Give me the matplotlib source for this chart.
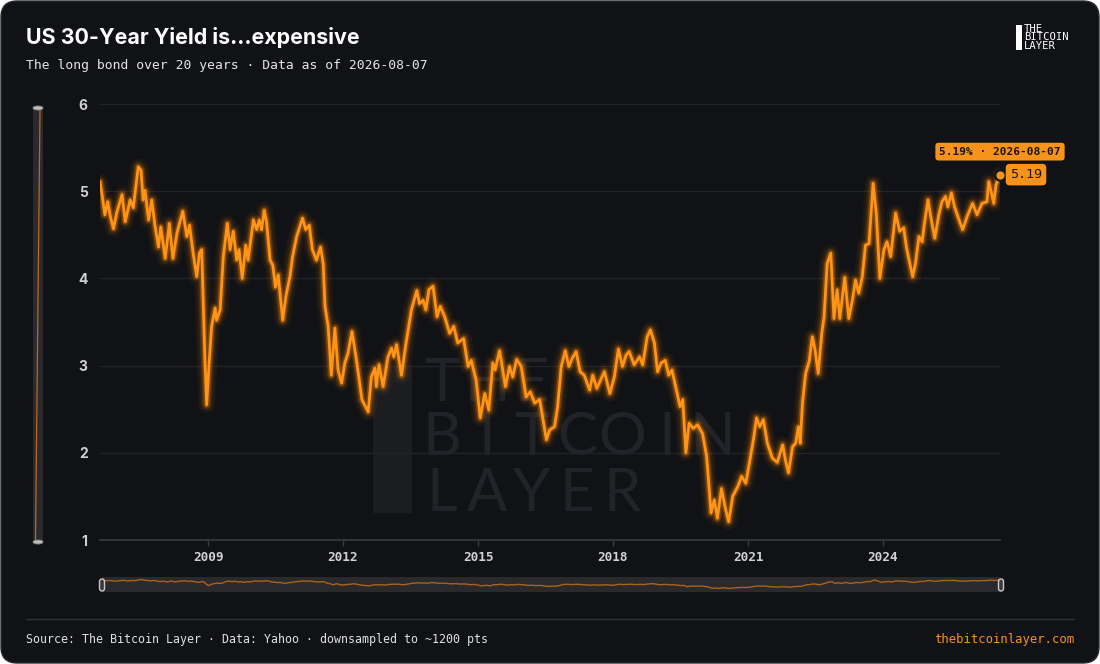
import matplotlib
matplotlib.use('Agg')
import matplotlib.pyplot as plt
from matplotlib.patches import FancyBboxPatch, Rectangle, Ellipse
from matplotlib.lines import Line2D

# ---------------- data ----------------
years = [2006.60, 2006.64, 2006.71, 2006.77, 2006.83, 2006.90, 2006.97, 2007.09, 2007.16, 2007.27,
         2007.34, 2007.45, 2007.51, 2007.56, 2007.60, 2007.68, 2007.75, 2007.82, 2007.90, 2007.95,
         2008.05, 2008.14, 2008.22, 2008.31, 2008.44, 2008.53, 2008.59, 2008.67, 2008.75, 2008.81,
         2008.86, 2008.90, 2008.93, 2008.97, 2009.02, 2009.08, 2009.16, 2009.19, 2009.27, 2009.34,
         2009.43, 2009.49, 2009.56, 2009.64, 2009.69, 2009.76, 2009.84, 2009.89, 2010.01, 2010.08,
         2010.14, 2010.19, 2010.25, 2010.30, 2010.38, 2010.44, 2010.50, 2010.56, 2010.66, 2010.73,
         2010.82, 2010.88, 2010.97, 2011.10, 2011.17, 2011.25, 2011.32, 2011.41, 2011.50, 2011.56,
         2011.60, 2011.67, 2011.74, 2011.82, 2011.89, 2011.97, 2012.04, 2012.11, 2012.20, 2012.30,
         2012.42, 2012.56, 2012.63, 2012.71, 2012.74, 2012.80, 2012.89, 2013.00, 2013.08, 2013.13,
         2013.19, 2013.30, 2013.39, 2013.52, 2013.64, 2013.70, 2013.78, 2013.84, 2013.91, 2014.00,
         2014.09, 2014.16, 2014.26, 2014.37, 2014.46, 2014.55, 2014.68, 2014.78, 2014.85, 2014.96,
         2015.05, 2015.15, 2015.24, 2015.33, 2015.38, 2015.48, 2015.61, 2015.70, 2015.77, 2015.86,
         2015.96, 2016.07, 2016.16, 2016.26, 2016.37, 2016.52, 2016.59, 2016.70, 2016.77, 2016.85,
         2016.94, 2017.02, 2017.09, 2017.18, 2017.27, 2017.36, 2017.48, 2017.55, 2017.64, 2017.81,
         2017.93, 2018.03, 2018.12, 2018.21, 2018.29, 2018.36, 2018.47, 2018.59, 2018.66, 2018.76,
         2018.83, 2018.92, 2018.99, 2019.07, 2019.16, 2019.24, 2019.31, 2019.40, 2019.49, 2019.55,
         2019.62, 2019.69, 2019.78, 2019.88, 2019.99, 2020.08, 2020.18, 2020.25, 2020.32, 2020.41,
         2020.49, 2020.57, 2020.66, 2020.77, 2020.86, 2020.95, 2021.03, 2021.12, 2021.19, 2021.26,
         2021.34, 2021.43, 2021.54, 2021.65, 2021.77, 2021.83, 2021.90, 2021.99, 2022.06, 2022.12,
         2022.16, 2022.21, 2022.28, 2022.36, 2022.43, 2022.49, 2022.56, 2022.64, 2022.69, 2022.76,
         2022.84, 2022.91, 2022.98, 2023.04, 2023.15, 2023.24, 2023.32, 2023.39, 2023.46, 2023.54,
         2023.61, 2023.69, 2023.78, 2023.85, 2023.93, 2024.02, 2024.09, 2024.17, 2024.28, 2024.37,
         2024.46, 2024.52, 2024.58, 2024.66, 2024.72, 2024.80, 2024.87, 2024.91, 2025.00, 2025.06,
         2025.15, 2025.24, 2025.31, 2025.39, 2025.44, 2025.52, 2025.59, 2025.69, 2025.77, 2025.87,
         2025.99, 2026.09, 2026.20, 2026.31, 2026.35, 2026.41, 2026.46, 2026.51, 2026.60]

yields = [5.11, 4.98, 4.73, 4.88, 4.71, 4.57, 4.75, 4.96, 4.65, 4.90,
          4.81, 5.28, 5.24, 4.90, 5.01, 4.67, 4.90, 4.61, 4.36, 4.59,
          4.23, 4.63, 4.23, 4.52, 4.77, 4.48, 4.61, 4.29, 4.02, 4.29,
          4.33, 3.64, 3.10, 2.55, 2.99, 3.45, 3.66, 3.52, 3.64, 4.25,
          4.63, 4.33, 4.54, 4.21, 4.33, 4.00, 4.38, 4.21, 4.67, 4.56,
          4.67, 4.56, 4.78, 4.65, 4.21, 4.15, 3.90, 4.04, 3.52, 3.79,
          4.02, 4.25, 4.48, 4.69, 4.56, 4.61, 4.33, 4.21, 4.36, 4.17,
          3.68, 3.45, 2.89, 3.43, 2.95, 2.80, 3.03, 3.14, 3.39, 3.06,
          2.61, 2.47, 2.87, 2.97, 2.76, 3.01, 2.76, 3.10, 3.20, 3.10,
          3.24, 2.89, 3.22, 3.64, 3.86, 3.71, 3.75, 3.64, 3.87, 3.91,
          3.56, 3.68, 3.56, 3.37, 3.45, 3.26, 3.31, 2.99, 3.06, 2.83,
          2.40, 2.68, 2.49, 3.03, 2.95, 3.17, 2.76, 2.99, 2.87, 3.07,
          2.99, 2.64, 2.70, 2.57, 2.61, 2.15, 2.26, 2.30, 2.53, 2.99,
          3.17, 2.99, 3.08, 3.16, 2.93, 2.89, 2.72, 2.89, 2.74, 2.93,
          2.68, 2.87, 3.19, 2.99, 3.12, 3.16, 3.01, 3.10, 3.01, 3.33,
          3.41, 3.26, 2.93, 3.03, 3.06, 2.89, 2.95, 2.74, 2.53, 2.61,
          2.00, 2.34, 2.28, 2.32, 2.22, 1.96, 1.31, 1.46, 1.25, 1.59,
          1.38, 1.21, 1.50, 1.61, 1.73, 1.65, 1.88, 2.15, 2.40, 2.30,
          2.38, 2.11, 1.94, 1.89, 2.09, 1.92, 1.77, 2.07, 2.11, 2.30,
          2.11, 2.57, 2.91, 3.05, 3.33, 3.18, 2.91, 3.37, 3.56, 4.17,
          4.29, 3.54, 3.87, 3.54, 4.01, 3.54, 3.75, 3.98, 3.83, 4.02,
          4.38, 4.40, 5.09, 4.75, 4.00, 4.33, 4.42, 4.25, 4.75, 4.54,
          4.58, 4.36, 4.21, 4.02, 4.17, 4.48, 4.42, 4.59, 4.90, 4.71,
          4.46, 4.73, 4.88, 4.94, 4.82, 4.98, 4.82, 4.67, 4.56, 4.71,
          4.86, 4.73, 4.86, 4.88, 5.11, 4.98, 4.86, 5.07, 5.19]

x_ticks = [2009, 2012, 2015, 2018, 2021, 2024]
x_tick_labels = ['2009', '2012', '2015', '2018', '2021', '2024']
y_ticks = [1, 2, 3, 4, 5, 6]
y_tick_labels = ['1', '2', '3', '4', '5', '6']
last_value_label = '5.19'
last_date_label = '5.19% · 2026-08-07'

title = 'US 30-Year Yield is…expensive'
subtitle = 'The long bond over 20 years · Data as of 2026-08-07'
source = 'Source: The Bitcoin Layer · Data: Yahoo · downsampled to ~1200 pts'
site = 'thebitcoinlayer.com'

# ---------------- style ----------------
W, H = 1100, 664
BG = '#111216'
ORANGE = '#f7931a'
MONO = 'DejaVu Sans Mono'
SANS = ['Inter', 'DejaVu Sans']

def fx(x):
    return x / W

def fy(y):
    return 1 - y / H

def inch(px):
    return px / 100.0

fig = plt.figure(figsize=(11, 6.64), dpi=100)
fig.patch.set_facecolor('white')

# card
card = FancyBboxPatch((inch(1), inch(1)), inch(1098), inch(662),
                      boxstyle='round,pad=0,rounding_size=0.16',
                      transform=fig.dpi_scale_trans, facecolor=BG,
                      edgecolor='#2a2b30', linewidth=1.0, zorder=-10)
fig.patches.append(card)

# title & subtitle
fig.text(fx(26), fy(38), title, color='white', fontsize=15.4, fontweight='bold',
         family=SANS, va='center', ha='left')
fig.text(fx(26), fy(65), subtitle, color='#e6e6e6', fontsize=9.4, family=MONO,
         va='center', ha='left')

# logo top right
fig.patches.append(Rectangle((fx(1016), fy(50)), fx(6), 25 / H, transform=fig.transFigure,
                             facecolor='white', edgecolor='none'))
for i, w in enumerate(['THE', 'BITCOIN', 'LAYER']):
    fig.text(fx(1024), fy(29 + 8.5 * i), w, color='white', fontsize=7.6, family=MONO,
             va='center', ha='left')

# watermark
fig.patches.append(Rectangle((fx(373), fy(513)), fx(39), 148 / H, transform=fig.transFigure,
                             facecolor='#1c1d21', edgecolor='none', zorder=-5))
for w, yc in zip(['THE', 'BITCOIN', 'LAYER'], [384, 438, 494]):
    for k, ch in enumerate(w):
        fig.text(fx(442 + 45 * k), fy(yc), ch, color='#222328', fontsize=43,
                 family=['Lato', 'DejaVu Sans'], fontweight='normal',
                 va='center', ha='center', zorder=-5)

# main axes
ax = fig.add_axes([fx(100), fy(540), fx(1000) - fx(100), (540 - 104) / H])
ax.set_facecolor('none')
ax.set_xlim(years[0], years[-1])
ax.set_ylim(1, 6)
for s in ['top', 'right', 'left']:
    ax.spines[s].set_visible(False)
ax.spines['bottom'].set_color('#3b3c42')
ax.spines['bottom'].set_linewidth(1.2)
for yv in y_ticks[1:]:
    ax.axhline(yv, color='#222329', lw=1.0, zorder=0)

ax.set_xticks(x_ticks)
ax.set_xticklabels(x_tick_labels)
ax.set_yticks(y_ticks)
ax.set_yticklabels(y_tick_labels)
ax.tick_params(axis='x', colors='#3b3c42', length=4, width=1, pad=4, labelcolor='#d2d2d2',
               labelsize=9.2)
ax.tick_params(axis='y', length=0, pad=9, labelcolor='#d0d0d0', labelsize=10)
for lab in ax.get_xticklabels():
    lab.set_fontfamily(MONO)
    lab.set_fontweight('bold')
for lab in ax.get_yticklabels():
    lab.set_fontfamily(SANS)
    lab.set_fontweight('bold')

# glow + line
for lw, a in [(12, 0.05), (8.5, 0.08), (6, 0.14), (4.2, 0.28)]:
    ax.plot(years, yields, color='#ff8a00', lw=lw, alpha=a, solid_joinstyle='round',
            solid_capstyle='round', zorder=2)
ax.plot(years, yields, color='#ff9416', lw=2.0, solid_joinstyle='round', zorder=3)

# last point
ax.plot([years[-1]], [yields[-1]], marker='o', ms=7.5, mfc=ORANGE, mec='#15161a',
        mew=1.6, zorder=5, clip_on=False)
ax.annotate(last_value_label, xy=(years[-1], yields[-1]), xytext=(10, 0),
            textcoords='offset pixels', ha='left', va='center', fontsize=9.6,
            family=MONO, color='#1a1410', annotation_clip=False, zorder=6,
            bbox=dict(boxstyle='round,pad=0.32,rounding_size=0.3', fc=ORANGE, ec='none'))
ax.annotate(last_date_label, xy=(years[-1], yields[-1]), xytext=(0, 23),
            textcoords='offset pixels', ha='center', va='center', fontsize=8.0,
            family=MONO, fontweight='bold', color='#1a1410', annotation_clip=False, zorder=6,
            bbox=dict(boxstyle='round,pad=0.35,rounding_size=0.3', fc=ORANGE, ec='none'))

# bottom slider (overview)
sax = fig.add_axes([fx(102), fy(592), fx(1001) - fx(102), 15 / H])
sax.set_facecolor('#2a292c')
sax.plot(years, yields, color='#b8691a', lw=1.0, alpha=0.9)
sax.set_xlim(years[0], years[-1])
sax.set_ylim(-0.4, 6.5)
sax.set_xticks([])
sax.set_yticks([])
for s in sax.spines.values():
    s.set_visible(False)
for hx in [102, 1001]:
    fig.patches.append(FancyBboxPatch((inch(hx - 2.5), inch(H - 591)), inch(5), inch(12),
                                      boxstyle='round,pad=0,rounding_size=0.025',
                                      transform=fig.dpi_scale_trans, facecolor='#3a3a3e',
                                      edgecolor='#c8c8c8', linewidth=1.0, zorder=5))

# left vertical slider
fig.patches.append(Rectangle((fx(33), fy(542)), fx(10), (542 - 108) / H, transform=fig.transFigure,
                             facecolor='#2a2a2e', edgecolor='none'))
fig.lines.append(Line2D([fx(40), fx(35.5)], [fy(110), fy(540)], transform=fig.transFigure,
                        color='#b8691a', lw=0.9))
for hy in [108, 542]:
    fig.patches.append(Ellipse((inch(38), inch(H - hy)), inch(10), inch(4),
                               transform=fig.dpi_scale_trans, facecolor='#bdbdbd',
                               edgecolor='#888888', lw=0.6, zorder=5))

# footer
fig.lines.append(Line2D([fx(26), fx(1074)], [fy(619), fy(619)], transform=fig.transFigure,
                        color='#303136', lw=1.0))
fig.text(fx(26), fy(640), source, color='#e0e0e0', fontsize=8.4, family=MONO,
         va='center', ha='left')
fig.text(fx(1074), fy(640), site, color=ORANGE, fontsize=8.8, family=MONO,
         va='center', ha='right')

fig.savefig('out.png', dpi=100, facecolor=fig.get_facecolor())
